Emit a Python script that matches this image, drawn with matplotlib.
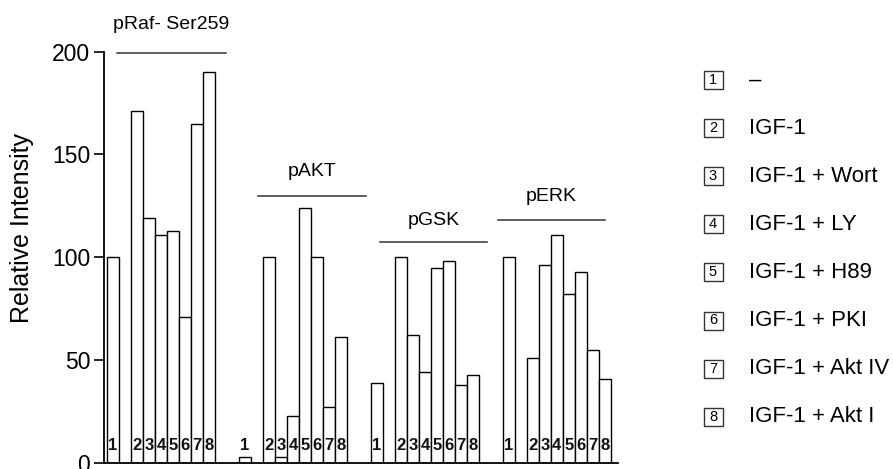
import numpy as np
import matplotlib.pyplot as plt
from matplotlib.patches import Rectangle

plt.rcParams['font.family'] = ['Liberation Sans', 'DejaVu Sans']

# data
groups = ['pRaf- Ser259', 'pAKT', 'pGSK', 'pERK']
lanes = ['1', '2', '3', '4', '5', '6', '7', '8']
conditions = ['–', 'IGF-1', 'IGF-1 + Wort', 'IGF-1 + LY', 'IGF-1 + H89',
              'IGF-1 + PKI', 'IGF-1 + Akt IV', 'IGF-1 + Akt I']

praf = [100, 171, 119, 111, 113, 71, 165, 190]
pakt = [3, 100, 3, 23, 124, 100, 27, 61]
pgsk = [39, 100, 62, 44, 95, 98, 38, 43]
perk = [100, 51, 96, 111, 82, 93, 55, 41]
y_ticks = [0, 50, 100, 150, 200]

# layout: lane 1 sits alone, then a gap, then lanes 2-8
group_start = [0, 11, 22, 33]
lane_slot = [0, 2, 3, 4, 5, 6, 7, 8]
bracket = [(0.83, 9.9, 199.5, 213), (12.6, 21.6, 130, 141.5),
           (22.75, 31.7, 107.5, 118), (32.6, 41.5, 118, 129.5)]

W, H = 893, 469
fig = plt.figure(figsize=(W / 100, H / 100), dpi=100)
ax = fig.add_axes([104 / W, 6 / H, 514 / W, 411.5 / H])

for g, vals in enumerate([praf, pakt, pgsk, perk]):
    xs = np.array(lane_slot) + group_start[g]
    ax.bar(xs, vals, width=1, align='edge', color='white',
           edgecolor='black', linewidth=1.0)
    for x, lab in zip(xs, lanes):
        ax.text(x + 0.5, 8.6, lab, ha='center', va='center',
                fontsize=12, fontweight='bold', color='#111111')
    x0, x1, yl, yt = bracket[g]
    ax.plot([x0, x1], [yl, yl], color='#333333', lw=1.1, clip_on=False)
    ax.text((x0 + x1) / 2, yt, groups[g], ha='center', va='center',
            fontsize=14, clip_on=False)

ax.set_xlim(-0.25, 42.6)
ax.set_ylim(0, 200)
ax.set_yticks(y_ticks)
ax.set_xticks([])
ax.tick_params(axis='y', direction='out', length=7, width=1.2,
               labelsize=16.5, pad=3)
ax.spines['top'].set_visible(False)
ax.spines['right'].set_visible(False)
ax.spines['left'].set_linewidth(1.3)
ax.spines['bottom'].set_linewidth(1.3)

fig.text(22.5 / W, 1 - 228 / H, 'Relative Intensity', rotation=90,
         ha='center', va='center', fontsize=18)

# legend drawn by hand: numbered boxes + labels
for i, (lab, cond) in enumerate(zip(lanes, conditions)):
    yc = 80 + 48.1 * i
    bw, bh = 19, 18
    fig.add_artist(Rectangle(((713 - bw / 2) / W, 1 - (yc + bh / 2) / H),
                             bw / W, bh / H, transform=fig.transFigure,
                             facecolor='white', edgecolor='#333333', lw=1.0))
    fig.text(713 / W, 1 - yc / H, lab, ha='center', va='center', fontsize=10.5)
    fig.text(749 / W, 1 - yc / H, cond, ha='left', va='center', fontsize=16)

fig.savefig('out.png', dpi=100)
